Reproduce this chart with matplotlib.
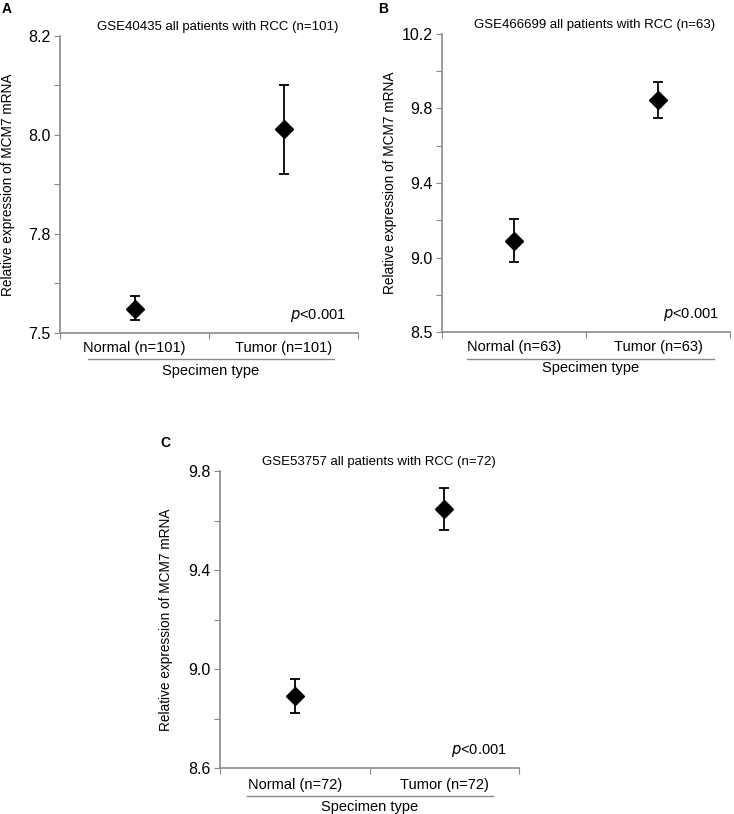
import matplotlib
matplotlib.use('Agg')
import matplotlib.pyplot as plt

plt.rcParams['font.family'] = ['Liberation Sans', 'DejaVu Sans']

# values (axis units as drawn)
groups_a = ['Normal (n=101)', 'Tumor (n=101)']
mean_a = [7.648, 8.012]
low_a = [7.626, 7.922]
high_a = [7.674, 8.102]
ticks_a = [7.6, 7.7, 7.8, 7.9, 8.0, 8.1, 8.2]
ticklabels_a = ['7.5', '', '7.8', '', '8.0', '', '8.2']

groups_b = ['Normal (n=63)', 'Tumor (n=63)']
mean_b = [9.088, 9.847]
low_b = [8.975, 9.750]
high_b = [9.206, 9.943]
ticks_b = [8.6, 8.8, 9.0, 9.2, 9.4, 9.6, 9.8, 10.0, 10.2]
ticklabels_b = ['8.5', '', '9.0', '', '9.4', '', '9.8', '', '10.2']

groups_c = ['Normal (n=72)', 'Tumor (n=72)']
mean_c = [8.890, 9.645]
low_c = [8.822, 9.562]
high_c = [8.961, 9.730]
ticks_c = [8.6, 8.8, 9.0, 9.2, 9.4, 9.6, 9.8]
ticklabels_c = ['8.6', '', '9.0', '', '9.4', '', '9.8']

titles = ['GSE40435 all patients with RCC (n=101)',
          'GSE466699 all patients with RCC (n=63)',
          'GSE53757 all patients with RCC (n=72)']

W, H = 734, 814
fig = plt.figure(figsize=(W / 100, H / 100), dpi=100)
gray = '#8a8a8a'


def ftext(x, y, s, **kw):
    # place text by pixel position from top-left
    return fig.text(x / W, 1 - y / H, s, **kw)


def panel(rect, letter, letter_xy, title, groups, mean, low, high, ticks, ticklabels,
          ylab_x, cat_y, spec_y, line):
    left, top, right, bottom = rect
    ax = fig.add_axes([left / W, 1 - bottom / H, (right - left) / W, (bottom - top) / H])
    x = [0.5, 1.5]
    yerr = [[m - l for m, l in zip(mean, low)], [h - m for m, h in zip(mean, high)]]
    ax.errorbar(x, mean, yerr=yerr, fmt='D', color='black', ms=9,
                elinewidth=1.3, capsize=3.5, capthick=1.3)
    ax.set_xlim(0, 2)
    ax.set_ylim(ticks[0], ticks[-1])
    ax.set_yticks(ticks)
    ax.set_yticklabels(ticklabels)
    ax.set_xticks([0, 1, 2])
    ax.set_xticklabels([])
    for s in ['top', 'right']:
        ax.spines[s].set_visible(False)
    for s in ['left', 'bottom']:
        ax.spines[s].set_color(gray)
        ax.spines[s].set_linewidth(1.2)
    ax.tick_params(axis='y', direction='out', length=4, color=gray, labelsize=11.5, pad=3)
    ax.tick_params(axis='x', direction='out', length=4, color=gray)
    w = right - left
    for xi, g in zip(x, groups):
        ftext(left + xi / 2 * w, cat_y, g, ha='center', va='center', fontsize=10.5)
    ftext((line[0] + line[1]) / 2, spec_y, 'Specimen type', ha='center', va='center',
          fontsize=10.5)
    fig.add_artist(plt.Line2D([line[0] / W, line[1] / W], [1 - line[2] / H, 1 - line[2] / H],
                              color=gray, lw=1))
    ax.text(0.96, 0.03, r'$p$<0.001', transform=ax.transAxes, ha='right', va='bottom',
            fontsize=10.5)
    ax.set_title(title, fontsize=9.5, pad=4, x=0.53)
    ftext(ylab_x, (top + bottom) / 2, 'Relative expression of MCM7 mRNA',
          rotation=90, ha='left', va='center', fontsize=9.8)
    ftext(letter_xy[0], letter_xy[1], letter, fontsize=10, fontweight='bold',
          ha='left', va='top')
    return ax


ax_a = panel((60, 36, 358, 333), 'A', (2, 2), titles[0], groups_a, mean_a, low_a, high_a,
             ticks_a, ticklabels_a, 1, 348, 371, (88, 334, 359))
ax_b = panel((442, 34, 730, 332), 'B', (378, 2), titles[1], groups_b, mean_b, low_b, high_b,
             ticks_b, ticklabels_b, 383, 347, 368, (467, 714, 359))
ax_c = panel((220, 471, 519, 768), 'C', (160, 436), titles[2], groups_c, mean_c, low_c, high_c,
             ticks_c, ticklabels_c, 159, 785, 807, (247, 493, 796))

fig.savefig('out.png', dpi=100)
